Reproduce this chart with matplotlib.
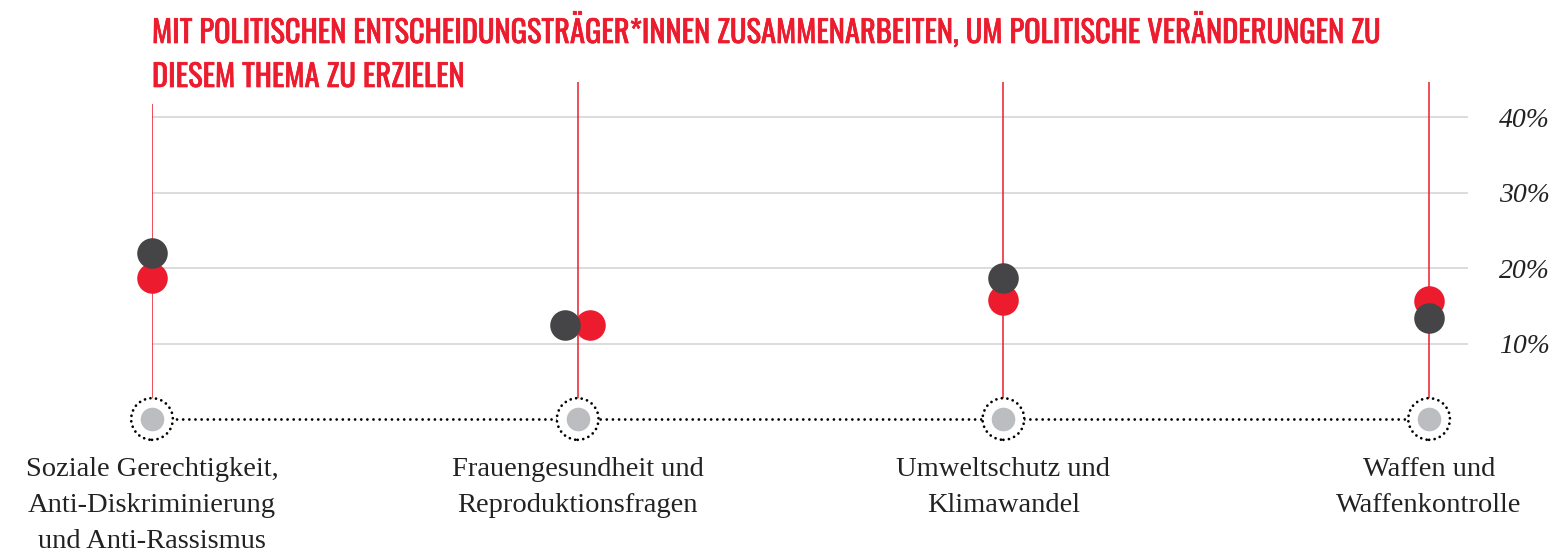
import matplotlib
matplotlib.use("Agg")
import matplotlib.pyplot as plt
from matplotlib import font_manager
import matplotlib.patheffects as pe

# data
categories = [
    "Soziale Gerechtigkeit,\nAnti-Diskriminierung\nund Anti-Rassismus",
    "Frauengesundheit und\nReproduktionsfragen",
    "Umweltschutz und\nKlimawandel",
    "Waffen und\nWaffenkontrolle",
]
red_vals = [18.7, 12.5, 15.8, 15.6]
dark_vals = [22.0, 12.5, 18.7, 13.4]
y_ticks = [10, 20, 30, 40]
title_lines = [
    "MIT POLITISCHEN ENTSCHEIDUNGSTRÄGER*INNEN ZUSAMMENARBEITEN, UM POLITISCHE VERÄNDERUNGEN ZU",
    "DIESEM THEMA ZU ERZIELEN",
]

RED = "#EC1C2E"
DARK = "#454547"
GRAY = "#BCBDC0"
GRID = "#D6D6D6"

installed = {f.name for f in font_manager.fontManager.ttflist}
title_font = "DejaVu Sans"
for name in ["Oswald", "Roboto Condensed", "Liberation Sans Narrow", "DejaVu Sans Condensed"]:
    if name in installed:
        title_font = name
        break

fig = plt.figure(figsize=(15.52, 5.58), dpi=100)
ax = fig.add_axes([152 / 1552, 1 - 419 / 558, (1468 - 152) / 1552, (419 - 82) / 558])

x = list(range(len(categories)))
top = 10 * (419 - 82) / 75.4
ax.set_xlim(0, (1468 - 152) / 425.7)
ax.set_ylim(0, top)

# red stems
ax.vlines(x, 0, top, color=RED, lw=1.1, zorder=2)

# dodge dots when both values coincide
red_x, dark_x = [], []
for i in x:
    if abs(red_vals[i] - dark_vals[i]) < 1:
        red_x.append(i + 0.029)
        dark_x.append(i - 0.029)
    else:
        red_x.append(i)
        dark_x.append(i)

ax.scatter(red_x, red_vals, s=22 ** 2, color=RED, zorder=3, clip_on=False, linewidths=0)
ax.scatter(dark_x, dark_vals, s=22 ** 2, color=DARK, zorder=4, clip_on=False, linewidths=0)

# dotted baseline with circles
ax.plot([0, 3], [0, 0], color="black", lw=2, linestyle=(0, (0.01, 2.2)),
        dash_capstyle="round", clip_on=False, zorder=2)
ax.scatter(x, [0] * len(x), s=30 ** 2, facecolor="white", edgecolor="black",
           linewidths=2, linestyle=(0, (0.01, 2.0)), capstyle="round",
           clip_on=False, zorder=5)
ax.scatter(x, [0] * len(x), s=17 ** 2, color=GRAY, linewidths=0, clip_on=False, zorder=6)

# grid + right tick labels
ax.set_yticks(y_ticks)
ax.set_yticklabels([f"{v}%" for v in y_ticks], fontfamily="Liberation Serif",
                   fontstyle="italic", fontsize=20, color="#222222")
ax.yaxis.tick_right()
ax.tick_params(axis="y", length=0, pad=22)
ax.set_xticks([])
ax.grid(axis="y", color=GRID, lw=1.2)
ax.set_axisbelow(True)
for s in ax.spines.values():
    s.set_visible(False)

# category labels
for i, lab in enumerate(categories):
    ax.annotate(lab, (i, 0), xytext=(0, -27), textcoords="offset points",
                ha="center", va="top", fontsize=20.5, fontfamily="Liberation Serif",
                color="#222222", linespacing=1.58, annotation_clip=False)

# title
bold = [pe.withStroke(linewidth=0.5, foreground=RED)]
fig.text(152 / 1552, 1 - 43 / 558, title_lines[0], fontfamily=title_font,
         fontweight="bold", fontsize=22, color=RED, va="baseline", ha="left",
         path_effects=bold)
fig.text(152 / 1552, 1 - 87 / 558, title_lines[1], fontfamily=title_font,
         fontweight="bold", fontsize=22, color=RED, va="baseline", ha="left",
         path_effects=bold, bbox=dict(facecolor="white", edgecolor="none", pad=8))

fig.savefig("out.png", dpi=100)
